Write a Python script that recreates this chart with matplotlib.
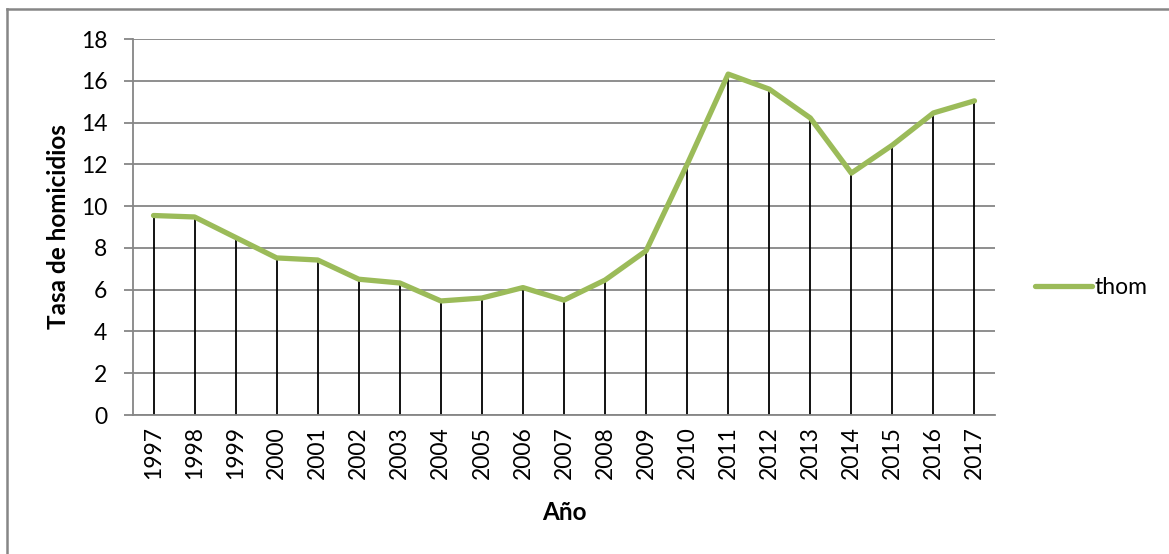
import matplotlib
matplotlib.use("Agg")
import matplotlib.pyplot as plt
from matplotlib.lines import Line2D

years = [str(y) for y in range(1997, 2018)]
thom = [9.55, 9.48, 8.5, 7.52, 7.42, 6.5, 6.32, 5.46, 5.6, 6.1, 5.5,
        6.46, 7.86, 12.0, 16.32, 15.6, 14.22, 11.58, 12.92, 14.46, 15.04]
yticks = list(range(0, 19, 2))

plt.rcParams["font.family"] = ["Lato", "DejaVu Sans"]

fig = plt.figure(figsize=(11.69, 5.54), dpi=100)
ax = fig.add_axes([133 / 1169, 139 / 554, 862 / 1169, 376 / 554])

x = list(range(len(years)))
ax.vlines(x, 0, thom, color="black", linewidth=1.3, zorder=2)
ax.plot(x, thom, color="#9BBB59", linewidth=3.8, solid_capstyle="round",
        solid_joinstyle="round", zorder=3, label="thom")

ax.set_xlim(-0.5, len(years) - 0.5)
ax.set_ylim(0, 18)
ax.set_yticks(yticks)
ax.set_yticklabels([str(t) for t in yticks], fontsize=16.5)
ax.set_xticks(x)
ax.set_xticklabels(years, rotation=90, fontsize=16.5)
ax.tick_params(axis="x", length=0, pad=8)
ax.tick_params(axis="y", length=6.5, width=1.3, color="#868686", pad=12)
ax.grid(axis="y", color="#868686", linewidth=1.3, zorder=1)
ax.set_axisbelow(True)

for side in ["top", "right"]:
    ax.spines[side].set_visible(False)
for side in ["left", "bottom"]:
    ax.spines[side].set_color("#868686")
    ax.spines[side].set_linewidth(1.3)

ax.set_ylabel("Tasa de homicidios", fontsize=17.5, fontweight="bold", labelpad=8)
ax.set_xlabel("Año", fontsize=17.5, fontweight="bold", labelpad=16)

ax.legend(handles=[Line2D([0], [0], color="#9BBB59", linewidth=3.8,
                          solid_capstyle="round")],
          labels=["thom"], loc="center left", bbox_to_anchor=(1.022, 0.34),
          frameon=False, fontsize=16.5, handlelength=2.5, handletextpad=0.1)

# outer chart border (only top and left visible)
fig.add_artist(Line2D([7 / 1169, 7 / 1169], [0, 1 - 9 / 554],
                      transform=fig.transFigure, color="#868686", linewidth=1.8))
fig.add_artist(Line2D([7 / 1169, 1], [1 - 9 / 554, 1 - 9 / 554],
                      transform=fig.transFigure, color="#868686", linewidth=1.8))

fig.savefig("out.png", dpi=100)
